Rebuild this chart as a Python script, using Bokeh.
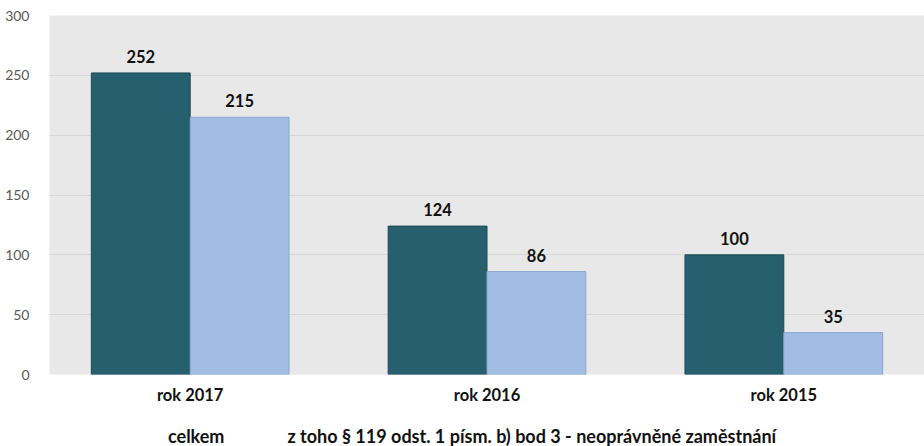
from bokeh.plotting import figure
from bokeh.models import FactorRange, ColumnDataSource, FixedTicker, Legend, LegendItem, LabelSet, Range1d
from bokeh.core.properties import value
from bokeh.transform import dodge
from bokeh.layouts import column
from bokeh.embed import file_html
from bokeh.resources import INLINE

years = ["rok 2017", "rok 2016", "rok 2015"]
celkem = [252, 124, 100]
z_toho = [215, 86, 35]
series_names = ["celkem", "z toho § 119 odst. 1 písm. b) bod 3 - neoprávněné zaměstnání"]
y_ticks = [0, 50, 100, 150, 200, 250, 300]

FONT = "Lato"
W = 0.333
DARK = "#265f6e"
LIGHT = "#a2bde4"

src = ColumnDataSource(dict(year=years, celkem=celkem, z_toho=z_toho,
                            lc=[str(v) for v in celkem], lz=[str(v) for v in z_toho]))

xr = FactorRange(*years, range_padding=-0.026, range_padding_units="absolute")
p = figure(frame_width=875, frame_height=359, x_range=xr,
           y_range=(0, 300), output_backend="svg", toolbar_location=None,
           min_border_left=49, min_border_right=0, min_border_top=15, min_border_bottom=50)
p.background_fill_color = "#e8e8e8"
p.border_fill_color = "white"
p.outline_line_color = None

r1 = p.vbar(x=dodge("year", -W / 2, range=p.x_range), top="celkem", width=W, source=src,
            fill_color=DARK, line_color="#1c4a56", line_width=1)
r2 = p.vbar(x=dodge("year", W / 2, range=p.x_range), top="z_toho", width=W, source=src,
            fill_color=LIGHT, line_color="#8aa6cc", line_width=1)

for col, lab, off in (("celkem", "lc", -W / 2), ("z_toho", "lz", W / 2)):
    ls = LabelSet(x=dodge("year", off, range=p.x_range), y=col, text=lab, source=src,
                  text_align="center", text_baseline="bottom", y_offset=10,
                  text_font=value(FONT), text_font_style="bold", text_font_size="16.5px",
                  text_color="#111111")
    p.add_layout(ls)

p.yaxis.ticker = FixedTicker(ticks=y_ticks)
p.yaxis.axis_line_color = None
p.yaxis.major_tick_line_color = None
p.yaxis.minor_tick_line_color = None
p.yaxis.major_label_text_font = FONT
p.yaxis.major_label_text_font_size = "14px"
p.yaxis.major_label_text_color = "#595959"
p.yaxis.major_label_standoff = 14

p.xaxis.axis_label = None
p.xaxis.axis_line_color = None
p.xaxis.major_tick_line_color = None
p.xaxis.minor_tick_line_color = None
p.xaxis.major_label_text_font = FONT
p.xaxis.major_label_text_font_style = "bold"
p.xaxis.major_label_text_font_size = "16.5px"
p.xaxis.major_label_text_color = "#111111"
p.xaxis.major_label_standoff = 4

p.xgrid.grid_line_color = None
p.ygrid.grid_line_color = "#d6d6d6"
p.ygrid.ticker = FixedTicker(ticks=y_ticks)

# legend strip below the chart
lg = figure(frame_width=875, frame_height=24, x_range=Range1d(0, 1), y_range=Range1d(0, 1),
            x_axis_type=None, y_axis_type=None, output_backend="svg", toolbar_location=None,
            min_border_left=49, min_border_right=0, min_border_top=0, min_border_bottom=0)
lg.outline_line_color = None
lg.background_fill_color = "white"
lg.border_fill_color = "white"
lg.xgrid.grid_line_color = None
lg.ygrid.grid_line_color = None
e1 = lg.square(x=[], y=[], fill_color=DARK, line_color="#1c4a56")
e2 = lg.square(x=[], y=[], fill_color=LIGHT, line_color="#8aa6cc")

legend = Legend(items=[LegendItem(label=series_names[0], renderers=[e1]),
                       LegendItem(label=series_names[1], renderers=[e2])],
                orientation="horizontal", location="left",
                label_text_font=FONT, label_text_font_style="bold", label_text_font_size="18px",
                label_text_color="#111111", glyph_width=10, glyph_height=10,
                spacing=46, label_standoff=7, border_line_color=None,
                background_fill_alpha=0, margin=102, padding=0)
lg.add_layout(legend, "center")

open("out.html", "w").write(file_html(column(p, lg, spacing=0), INLINE))
